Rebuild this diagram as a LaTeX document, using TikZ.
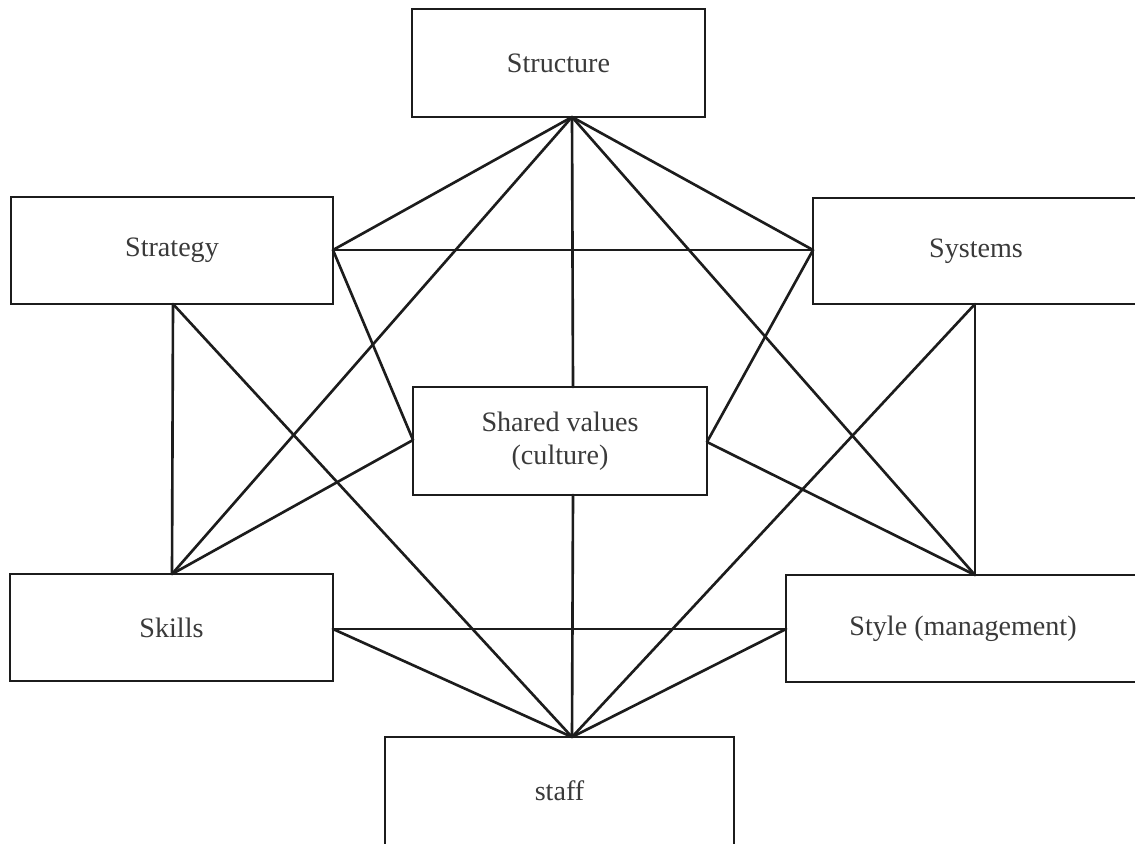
\documentclass[tikz,border=0pt]{standalone}
\usepackage{fontspec}
\setmainfont{Liberation Serif}
\usetikzlibrary{calc}
\definecolor{ink}{HTML}{1C1C1C}
\definecolor{label}{HTML}{3A3A3A}
\begin{document}
\begin{tikzpicture}[x=0.02cm,y=-0.02cm,
  box/.style={draw=ink, line width=1.3pt, rectangle, inner sep=0pt, outer sep=0pt,
    text=label, font=\fontsize{16}{18.5}\selectfont, align=center},
  link/.style={draw=ink, line width=1.5pt, line cap=round}]
  \useasboundingbox (0,0) rectangle (1135,843);
  \clip (0,0) rectangle (1135,843);
  \fill[white] (0,0) rectangle (1135,843);

  % the seven elements
  \node[box, minimum width=5.86cm, minimum height=2.16cm] (structure) at (558.5,63) {Structure};
  \node[box, minimum width=6.44cm, minimum height=2.14cm] (strategy) at (172,250.5) {Strategy};
  \node[box, minimum width=6.52cm, minimum height=2.12cm] (systems) at (976,251) {Systems};
  \node[box, minimum width=5.88cm, minimum height=2.16cm] (shared) at (560,441) {Shared values\\(culture)};
  \node[box, minimum width=6.46cm, minimum height=2.14cm] (skills) at (171.5,627.5) {Skills};
  \node[box, minimum width=7.08cm, minimum height=2.14cm] (style) at (963,628.5) {Style (management)};
  \node[box, minimum width=6.98cm, minimum height=2.16cm] (staff) at (559.5,791) {staff};

  % attachment points on the box edges
  \coordinate (structureB) at ($(structure.south)+(13.5,0)$);
  \coordinate (strategyR) at ($(strategy.east)+(0,-0.5)$);
  \coordinate (strategyB) at ($(strategy.south)+(1,0)$);
  \coordinate (systemsL) at ($(systems.west)+(0,-1)$);
  \coordinate (systemsB) at ($(systems.south)+(-1,0)$);
  \coordinate (sharedT) at ($(shared.north)+(13,0)$);
  \coordinate (sharedB) at ($(shared.south)+(13,0)$);
  \coordinate (sharedL) at ($(shared.west)+(0,-1)$);
  \coordinate (sharedR) at ($(shared.east)+(0,1)$);
  \coordinate (skillsT) at ($(skills.north)+(0.5,0)$);
  \coordinate (skillsR) at ($(skills.east)+(0,1.5)$);
  \coordinate (styleT) at ($(style.north)+(12,0)$);
  \coordinate (styleL) at ($(style.west)+(0,0.5)$);
  \coordinate (staffT) at ($(staff.north)+(12.5,0)$);

  % every element linked with the others
  \draw[link] (structureB) -- (strategyR);
  \draw[link] (structureB) -- (skillsT);
  \draw[link] (structureB) -- (sharedT);
  \draw[link] (structureB) -- (systemsL);
  \draw[link] (structureB) -- (styleT);
  \draw[link] (strategyR) -- (systemsL);
  \draw[link] (strategyR) -- (sharedL);
  \draw[link] (strategyB) -- (skillsT);
  \draw[link] (strategyB) -- (staffT);
  \draw[link] (skillsT) -- (sharedL);
  \draw[link] (skillsR) -- (styleL);
  \draw[link] (skillsR) -- (staffT);
  \draw[link] (systemsL) -- (sharedR);
  \draw[link] (systemsB) -- (styleT);
  \draw[link] (systemsB) -- (staffT);
  \draw[link] (styleT) -- (sharedR);
  \draw[link] (styleL) -- (staffT);
  \draw[link] (sharedB) -- (staffT);
\end{tikzpicture}
\end{document}
